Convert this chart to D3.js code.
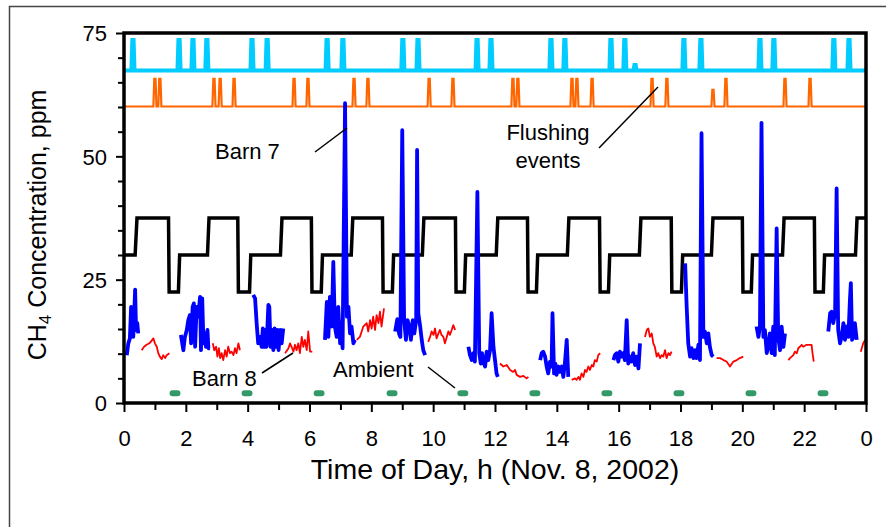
<!DOCTYPE html>
<html>
<head>
<meta charset="utf-8">
<script src="https://cdn.jsdelivr.net/npm/d3@7"></script>
<style>
  body { margin: 0; background: #fff; }
  svg { font-family: "Liberation Sans", Arial, sans-serif; }
</style>
</head>
<body>
<svg id="chart"></svg>
<script>
// ---- data (hours, ppm) ----
let xTicks = [0, 2, 4, 6, 8, 10, 12, 14, 16, 18, 20, 22, 24];
let yTicks = [0, 25, 50, 75];

// sampling valve position (black step line)
let valveTime = [0, 0.36, 0.42, 1.44, 1.46, 1.76, 1.80, 2.70, 2.75, 3.68, 3.70, 4.06, 4.10, 5.06, 5.11, 6.06, 6.08, 6.38, 6.42,
    7.35, 7.40, 8.36, 8.38, 8.68, 8.72, 9.65, 9.70, 10.72, 10.74, 11.01, 11.05, 12.04, 12.09, 13.05, 13.07, 13.34, 13.38,
    14.34, 14.39, 15.38, 15.40, 15.67, 15.71, 16.67, 16.72, 17.70, 17.72, 18.03, 18.07, 19.00, 19.05, 20.00, 20.02,
    20.29, 20.33, 21.30, 21.35, 22.33, 22.35, 22.62, 22.66, 23.66, 23.71, 24];
let valveValue = [30, 30, 37.5, 37.5, 22.5, 22.5, 30, 30, 37.5, 37.5, 22.5, 22.5, 30, 30, 37.5, 37.5, 22.5, 22.5, 30,
    30, 37.5, 37.5, 22.5, 22.5, 30, 30, 37.5, 37.5, 22.5, 22.5, 30, 30, 37.5, 37.5, 22.5, 22.5, 30,
    30, 37.5, 37.5, 22.5, 22.5, 30, 30, 37.5, 37.5, 22.5, 22.5, 30, 30, 37.5, 37.5, 22.5,
    22.5, 30, 30, 37.5, 37.5, 22.5, 22.5, 30, 30, 37.5, 37.5];

// Barn 7 (blue), null = gap
let barn7Time = [
    0.09, 0.14, 0.19, 0.23, 0.28, 0.30, 0.36, 0.39, 0.43, 0.46, null,
    1.84, 1.92, 1.97, 2.03, 2.08, 2.13, 2.17, 2.22, 2.26, 2.30, 2.35, 2.40, 2.46, 2.49, 2.53, 2.57, 2.62, 2.65, 2.70, 2.73, 2.78, null,
    4.18, 4.24, 4.29, 4.34, 4.40, 4.45, 4.49, 4.53, 4.57, 4.61, 4.67, 4.70, 4.74, 4.79, 4.83, 4.87, 4.92, 4.96, 5.00, 5.05, 5.10, 5.15, null,
    6.50, 6.56, 6.61, 6.66, 6.72, 6.77, 6.82, 6.88, 6.93, 6.99, 7.04, 7.07, 7.15, 7.21, 7.26, 7.31, 7.36, 7.42, 7.47, null,
    8.77, 8.84, 8.90, 8.94, 9.00, 9.06, 9.12, 9.17, 9.23, 9.28, 9.34, 9.39, 9.45, 9.48, 9.52, 9.58, 9.63, 9.68, 9.74, null,
    11.14, 11.19, 11.25, 11.30, 11.35, 11.43, 11.49, 11.54, 11.58, 11.62, 11.68, 11.73, 11.78, 11.84, 11.89, 11.95, 12.00, 12.05, 12.09, null,
    13.46, 13.51, 13.56, 13.62, 13.67, 13.72, 13.78, 13.83, 13.86, 13.91, 13.95, 13.99, 14.05, 14.10, 14.16, 14.21, 14.26, 14.32, 14.37, null,
    15.83, 15.88, 15.94, 15.99, 16.04, 16.10, 16.15, 16.20, 16.26, 16.31, 16.37, 16.42, 16.47, 16.53, 16.58, 16.64, 16.69, null,
    18.15, 18.20, 18.25, 18.31, 18.36, 18.42, 18.47, 18.52, 18.58, 18.63, 18.68, 18.74, 18.79, 18.85, 18.90, 18.95, 19.01, 19.06, null,
    20.46, 20.52, 20.57, 20.62, 20.68, 20.73, 20.79, 20.84, 20.89, 20.95, 21.00, 21.05, 21.11, 21.16, 21.22, 21.27, 21.33, 21.38, null,
    22.78, 22.84, 22.89, 22.94, 23.00, 23.05, 23.10, 23.16, 23.21, 23.27, 23.32, 23.37, 23.43, 23.48, 23.51, 23.55, 23.59, 23.64, 23.70];
let barn7Value = [
    9.7, 12.1, 13.1, 19.5, 19.2, 13.4, 23.0, 14.8, 16.2, 14.1, null,
    13.8, 10.7, 13.4, 14.8, 16.8, 17.8, 12.1, 19.5, 20.2, 11.4, 19.5, 17.5, 21.5, 10.7, 21.2, 12.1, 14.1, 11.4, 14.8, 11.1, 11.1, null,
    21.9, 21.2, 16.2, 12.1, 13.4, 11.4, 15.1, 11.4, 14.8, 11.4, 19.9, 19.5, 11.4, 14.8, 10.7, 15.1, 11.4, 14.8, 10.7, 14.8, 12.1, 15.1, null,
    12.8, 20.5, 13.4, 21.5, 15.5, 28.6, 15.5, 13.4, 19.5, 12.1, 16.2, 11.1, 60.8, 17.5, 19.5, 14.1, 15.5, 12.1, 12.8, null,
    14.5, 17.0, 14.0, 13.4, 55.3, 16.8, 12.8, 16.8, 15.5, 12.8, 16.8, 14.1, 16.8, 51.3, 18.2, 15.5, 12.8, 10.7, 9.7, null,
    11.4, 9.7, 8.7, 10.1, 8.4, 42.8, 10.1, 8.0, 10.1, 8.4, 7.4, 10.4, 8.7, 10.7, 18.2, 11.4, 8.7, 6.0, 5.3, null,
    8.7, 10.1, 10.4, 9.4, 7.4, 6.0, 8.4, 7.4, 18.2, 6.0, 8.0, 5.7, 7.4, 6.3, 7.4, 5.3, 8.0, 12.8, 5.3, null,
    8.7, 9.7, 10.1, 8.4, 10.4, 9.4, 10.1, 8.7, 16.8, 8.0, 9.4, 8.4, 10.1, 7.7, 9.4, 7.0, 12.1, null,
    28.3, 19.5, 12.1, 9.4, 11.1, 9.1, 10.7, 9.1, 11.8, 8.7, 54.7, 13.4, 14.5, 12.1, 14.1, 11.4, 9.7, 9.4, null,
    15.5, 13.4, 15.5, 56.8, 13.4, 14.8, 10.1, 11.4, 14.1, 10.1, 15.5, 9.7, 35.4, 13.4, 10.7, 15.5, 11.4, 14.1, null,
    14.5, 18.2, 18.5, 16.2, 18.2, 43.5, 14.8, 12.1, 13.4, 16.2, 12.8, 15.5, 13.4, 20.9, 24.3, 12.8, 13.4, 16.2, 12.8];

// Barn 8 (red)
let barn8Time = [
    0.57, 0.65, 0.73, 0.82, 0.89, 0.95, 1.00, 1.06, 1.11, 1.16, 1.22, 1.27, 1.33, 1.38, 1.47, null,
    2.87, 2.92, 2.98, 3.02, 3.07, 3.11, 3.16, 3.21, 3.27, 3.32, 3.37, 3.43, 3.48, 3.54, 3.59, 3.64, 3.70, 3.75, null,
    5.21, 5.32, 5.37, 5.42, 5.48, 5.53, 5.58, 5.64, 5.69, 5.75, 5.80, 5.85, 5.91, 5.96, 6.02, 6.09, null,
    7.53, 7.63, 7.74, 7.85, 7.90, 7.96, 8.01, 8.06, 8.12, 8.17, 8.23, 8.28, 8.33, 8.41, null,
    9.84, 9.90, 9.95, 10.01, 10.06, 10.11, 10.17, 10.22, 10.27, 10.33, 10.38, 10.44, 10.49, 10.54, 10.60, 10.65, 10.71, null,
    12.16, 12.27, 12.38, 12.49, 12.59, 12.65, 12.70, 12.81, 12.92, 13.02, 13.08, null,
    14.48, 14.59, 14.64, 14.70, 14.75, 14.80, 14.86, 14.91, 14.96, 15.02, 15.07, 15.13, 15.18, 15.23, 15.29, 15.34, 15.40, null,
    16.85, 16.91, 16.96, 17.01, 17.07, 17.12, 17.17, 17.23, 17.28, 17.34, 17.39, 17.44, 17.50, 17.55, 17.61, 17.66, 17.71, null,
    19.17, 19.28, 19.39, 19.49, 19.60, 19.71, 19.82, 19.92, 20.03, null,
    21.49, 21.54, 21.65, 21.70, 21.76, 21.81, 21.86, 21.92, 21.97, 22.08, 22.19, 22.24, 22.27, 22.31, null,
    23.83, 23.91, 23.97];
let barn8Value = [
    10.7, 11.4, 11.8, 12.1, 12.6, 13.1, 12.1, 11.4, 10.1, 9.4, 8.9, 9.7, 9.1, 9.7, 10.1, null,
    12.1, 10.7, 11.4, 9.4, 11.1, 9.1, 10.1, 8.7, 10.7, 9.4, 11.4, 10.1, 10.4, 9.7, 11.1, 10.1, 12.1, 10.7, null,
    10.1, 11.1, 12.1, 11.4, 10.4, 11.8, 10.7, 12.1, 10.1, 13.4, 11.4, 12.8, 10.7, 14.5, 10.4, 10.4, null,
    12.8, 13.4, 15.5, 16.2, 14.5, 16.8, 15.1, 17.5, 14.8, 17.8, 16.2, 18.5, 15.5, 19.2, null,
    12.4, 13.4, 14.5, 13.8, 15.1, 13.1, 14.1, 14.8, 13.8, 13.4, 12.1, 13.4, 14.5, 13.8, 14.8, 15.8, 14.8, null,
    8.0, 7.4, 7.7, 6.7, 6.3, 6.7, 5.7, 5.3, 5.5, 5.0, 5.3, null,
    4.7, 5.0, 4.7, 5.3, 4.7, 6.0, 5.3, 6.7, 6.3, 7.4, 6.7, 7.7, 7.4, 8.7, 8.4, 9.7, 10.1, null,
    13.4, 14.8, 15.1, 13.4, 14.1, 12.1, 11.4, 9.4, 10.1, 9.1, 9.7, 9.4, 10.7, 9.1, 10.1, 9.7, 10.4, null,
    9.1, 9.1, 8.7, 8.4, 7.4, 8.4, 8.7, 9.1, 9.4, null,
    8.7, 9.1, 9.7, 10.4, 10.1, 11.1, 11.4, 11.8, 11.4, 11.8, 11.8, 11.8, 10.1, 8.4, null,
    10.4, 12.1, 12.8];

// Ambient (green)
let ambientTime = [1.57, 1.73, null, 3.90, 4.06, null, 6.23, 6.39, null, 8.59, 8.75, null, 10.88, 11.04, null,
    13.21, 13.37, null, 15.54, 15.70, null, 17.87, 18.03, null, 20.20, 20.36, null, 22.53, 22.69];
let ambientValue = [2.0, 2.0, null, 2.0, 2.0, null, 2.0, 2.0, null, 2.0, 2.0, null, 2.0, 2.0, null,
    2.0, 2.0, null, 2.0, 2.0, null, 2.0, 2.0, null, 2.0, 2.0, null, 2.0, 2.0];

// flushing events: baseline level, event times, peak level
let flushCyanBase = 67.4;
let flushCyanTime = [0.29, 1.78, 2.23, 2.68, 4.14, 4.63, 6.57, 7.08, 9.02, 9.51, 11.42, 11.87, 13.81, 14.26,
    15.75, 16.20, 16.53, 18.11, 18.66, 20.57, 21.02, 22.96, 23.45];
let flushCyanPeak = [73.6, 73.6, 73.6, 73.6, 73.6, 73.6, 73.6, 73.6, 73.6, 73.6, 73.6, 73.6, 73.6, 73.6,
    73.6, 73.6, 68.5, 73.6, 73.6, 73.6, 73.6, 73.6, 73.6];
let flushOrangeBase = 60.1;
let flushOrangeTime = [1.00, 1.16, 2.91, 3.11, 3.56, 5.50, 5.95, 7.44, 7.89, 9.87, 10.64, 12.58, 12.74,
    14.49, 14.65, 15.14, 17.08, 17.56, 19.05, 19.47, 21.38, 22.19];
let flushOrangePeak = [65.7, 65.7, 65.7, 65.7, 65.7, 65.7, 65.7, 65.7, 65.7, 65.7, 65.7, 65.7, 65.7,
    65.7, 65.7, 65.7, 65.7, 65.7, 63.5, 65.7, 65.7, 65.7];

// ---- layout ----
let W = 886, H = 527;
let plot = { left: 124, right: 866, top: 33, bottom: 403 };

let svg = d3.select('#chart').attr('width', W).attr('height', H);
svg.append('rect').attr('width', W).attr('height', H).attr('fill', '#fff');

// outer figure frame (cut off at right/bottom)
svg.append('path')
    .attr('d', `M9.5,${H}V6.5H${W}`)
    .attr('fill', 'none').attr('stroke', '#444').attr('stroke-width', 1.5);

let x = d3.scaleLinear().domain([0, 24]).range([plot.left, plot.right]);
let y = d3.scaleLinear().domain([0, 75]).range([plot.bottom, plot.top]);

let line = d3.line()
    .defined(d => d[0] != null && d[1] != null)
    .x(d => x(d[0]))
    .y(d => y(d[1]));

function spikes(times, peaks, base) {
    // each event drawn as a narrow pulse on the baseline
    let pts = [[0, base]];
    times.forEach((t, i) => {
        pts.push([t - 0.05, base], [t - 0.02, peaks[i]], [t + 0.02, peaks[i]], [t + 0.05, base]);
    });
    pts.push([24, base]);
    return pts;
}

// valve position
svg.append('path')
    .datum(d3.zip(valveTime, valveValue))
    .attr('d', line)
    .attr('fill', 'none').attr('stroke', '#000').attr('stroke-width', 3.5)
    .attr('stroke-linejoin', 'miter');

// flushing events
svg.append('path')
    .datum(spikes(flushCyanTime, flushCyanPeak, flushCyanBase))
    .attr('d', line)
    .attr('fill', 'none').attr('stroke', '#00ccff').attr('stroke-width', 4);

svg.append('path')
    .datum(spikes(flushOrangeTime, flushOrangePeak, flushOrangeBase))
    .attr('d', line)
    .attr('fill', 'none').attr('stroke', '#ff6600').attr('stroke-width', 2.2);

// barn 8
svg.append('path')
    .datum(d3.zip(barn8Time, barn8Value))
    .attr('d', line)
    .attr('fill', 'none').attr('stroke', '#ff0000').attr('stroke-width', 1.8)
    .attr('stroke-linejoin', 'round');

// barn 7
svg.append('path')
    .datum(d3.zip(barn7Time, barn7Value))
    .attr('d', line)
    .attr('fill', 'none').attr('stroke', '#0000ff').attr('stroke-width', 3.8)
    .attr('stroke-linejoin', 'round');

// ambient
svg.append('path')
    .datum(d3.zip(ambientTime, ambientValue))
    .attr('d', line)
    .attr('fill', 'none').attr('stroke', '#339966').attr('stroke-width', 6)
    .attr('stroke-linecap', 'round');

// axes
let gx = svg.append('g').attr('transform', `translate(0,${plot.bottom})`);
gx.call(d3.axisBottom(x).tickValues(xTicks).tickSize(9).tickFormat(d => d === 24 ? '0' : d));
let gxm = svg.append('g').attr('transform', `translate(0,${plot.bottom})`);
gxm.call(d3.axisBottom(x).tickValues(d3.range(1, 24, 2)).tickSize(7).tickFormat(''));

let gy = svg.append('g').attr('transform', `translate(${plot.left},0)`);
gy.call(d3.axisLeft(y).tickValues(yTicks).tickSize(8));
let gym = svg.append('g').attr('transform', `translate(${plot.left},0)`);
gym.call(d3.axisLeft(y).tickValues(d3.range(5, 75, 5).filter(v => v % 25 !== 0)).tickSize(6).tickFormat(''));

[gx, gxm, gy, gym].forEach(g => {
    g.select('.domain').remove();
    g.selectAll('line').attr('stroke', '#000').attr('stroke-width', 2);
    g.selectAll('text').attr('fill', '#000').style('font-size', '22px')
        .style('font-family', '"Liberation Sans", Arial, sans-serif');
});
gx.selectAll('text').attr('y', 43).attr('dy', 0);
gy.selectAll('text').attr('x', -17).attr('dy', '0.36em');

// plot frame
svg.append('rect')
    .attr('x', plot.left).attr('y', plot.top)
    .attr('width', plot.right - plot.left).attr('height', plot.bottom - plot.top)
    .attr('fill', 'none').attr('stroke', '#000').attr('stroke-width', 3.5);

// axis titles
svg.append('text')
    .attr('x', 495).attr('y', 479)
    .attr('text-anchor', 'middle')
    .style('font-size', '28.5px')
    .text('Time of Day, h (Nov. 8, 2002)');

let yt = svg.append('text')
    .attr('transform', 'translate(46,225) rotate(-90)')
    .attr('text-anchor', 'middle')
    .style('font-size', '25px');
yt.append('tspan').text('CH');
yt.append('tspan').attr('dy', 5).style('font-size', '17px').text('4');
yt.append('tspan').attr('dy', -5).text(' Concentration, ppm');

// annotations
let notes = [
    { text: 'Barn 7', x: 215, y: 159, anchor: 'start' },
    { text: 'Flushing', x: 548, y: 140, anchor: 'middle' },
    { text: 'events', x: 548, y: 168, anchor: 'middle' },
    { text: 'Barn 8', x: 192, y: 386, anchor: 'start' },
    { text: 'Ambient', x: 333, y: 377, anchor: 'start' }
];
svg.selectAll('text.note')
    .data(notes).enter()
    .append('text')
    .attr('class', 'note')
    .attr('x', d => d.x).attr('y', d => d.y)
    .attr('text-anchor', d => d.anchor)
    .style('font-size', '22px')
    .text(d => d.text);

let leaders = [
    [315, 152, 347, 128],
    [599, 148, 658, 87],
    [262, 373, 293, 353],
    [428, 367, 455, 388]
];
svg.selectAll('line.leader')
    .data(leaders).enter()
    .append('line')
    .attr('class', 'leader')
    .attr('x1', d => d[0]).attr('y1', d => d[1])
    .attr('x2', d => d[2]).attr('y2', d => d[3])
    .attr('stroke', '#000').attr('stroke-width', 1.5);
</script>
</body>
</html>
